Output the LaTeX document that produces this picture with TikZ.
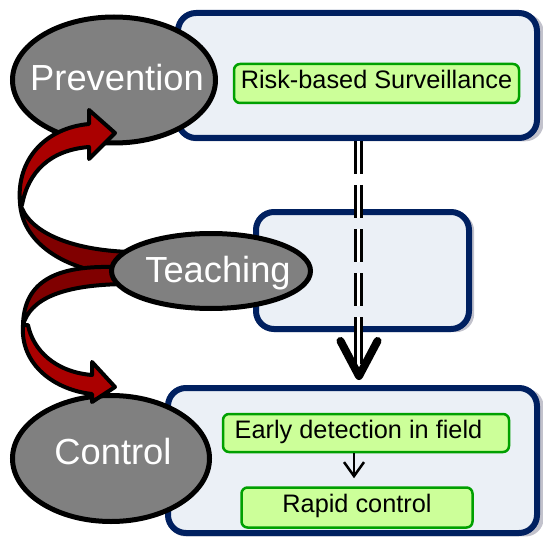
\documentclass[tikz,border=0pt]{standalone}
\usepackage{fontspec}
\setmainfont{Liberation Sans}
\usetikzlibrary{shapes.geometric,shadows,arrows.meta}
\definecolor{navy}{HTML}{002060}
\definecolor{boxfill}{HTML}{EBF0F6}
\definecolor{gfill}{HTML}{CCFF99}
\definecolor{gline}{HTML}{00A000}
\definecolor{redfront}{HTML}{AA0000}
\definecolor{redback}{HTML}{800000}
\definecolor{ellfill}{HTML}{808080}
\definecolor{shadowc}{HTML}{9A9AAA}
\begin{document}
\begin{tikzpicture}[x=1pt,y=-1pt,
  bigbox/.style={draw=navy, line width=6pt, fill=boxfill, rounded corners=18pt, inner sep=0pt,
     drop shadow={shadow xshift=3pt, shadow yshift=-2pt, shadow scale=1.02, fill=shadowc, opacity=0.6}},
  gbox/.style={draw=gline, line width=2.5pt, fill=gfill, rounded corners=6pt, inner sep=0pt,
     font=\fontsize{25.3pt}{29pt}\selectfont, text height=18pt, text depth=8pt},
  ell/.style={ellipse, draw=black, line width=5pt, fill=ellfill, inner sep=0pt},
  elltext/.style={text=white, inner sep=0pt, anchor=base, font=\fontsize{36.3pt}{41pt}\selectfont},
  dline/.style={draw=black, line width=3pt, double=white, double distance=3pt},
  vhead/.style={draw=black, line width=8pt, line cap=round, line join=round},
  ribbon/.style={draw=black, line width=4pt, line join=round},
  smallarrow/.style={draw=black, line width=2.5pt, -{Straight Barb[length=14pt,width=20pt]}}
]
\useasboundingbox (0,0) rectangle (543,540);

% boxes
\node[bigbox, minimum width=359pt, minimum height=125pt] (topbox) at (357.5,75.5) {};
\node[bigbox, minimum width=213pt, minimum height=117pt] (midbox) at (362.5,270.5) {};
\node[bigbox, minimum width=369pt, minimum height=145pt] (botbox) at (352.5,460.5) {};

% green boxes
\node[gbox, minimum width=285pt, minimum height=39pt] (risk) at (376.5,83.5) {Risk-based Surveillance};
\node[gbox, minimum width=286pt, minimum height=38pt] (early) at (366,433) {\hspace*{-15pt}Early detection in field};
\node[gbox, minimum width=231pt, minimum height=40pt] (rapid) at (357,507.5) {Rapid control};

\coordinate (sx) at (354,0);
\draw[smallarrow, shorten >=8pt] (early.south -| sx) -- (rapid.north -| sx);

% big dashed double arrow
\coordinate (dx) at (358.5,0);
\coordinate (dmid) at (358.5,321);
\coordinate (dend) at (358.5,364);
\draw[dline, dash pattern=on 33pt off 11pt] (topbox.south -| dx) -- (dmid);
\draw[dline] (dmid) -- (dend);
\coordinate (vl) at (340.5,341);
\coordinate (vt) at (359,376);
\coordinate (vr) at (377.5,341);
\draw[vhead] (vl) -- (vt) -- (vr);

% Prevention and Control ellipses
\node[ell, minimum width=203pt, minimum height=126pt] (prev) at (114,80) {};
\node[elltext] (prevt) at (117,91) {Prevention};
\node[ell, minimum width=197pt, minimum height=126pt] (ctrl) at (111,458.5) {};
\node[elltext] (ctrlt) at (113,464) {Control};

% back parts of ribbons
\draw[ribbon, fill=redback] (130,252) .. controls (70,250) and (28,232) .. (20,203)
   .. controls (22,240) and (60,272) .. (130,276) -- cycle;
\draw[ribbon, fill=redback] (130,268) .. controls (55,262) and (24,282) .. (23,325)
   .. controls (30,300) and (60,284) .. (130,284) -- cycle;

% Teaching ellipse
\node[ell, minimum width=199pt, minimum height=75pt] (teach) at (211,271) {};
\node[elltext] (teacht) at (218,282) {Teaching};

% front parts of ribbons
\draw[ribbon, fill=redfront] (20,203) .. controls (16,160) and (45,128) .. (89,124)
   -- (89,110) -- (115,133) -- (89,159) -- (89,147)
   .. controls (50,150) and (28,172) .. (22,205) -- cycle;
\draw[ribbon, fill=redfront] (23,325) .. controls (20,365) and (55,390) .. (92,394)
   -- (92,402) -- (115,387) -- (92,362) -- (92,375)
   .. controls (55,372) and (33,350) .. (28,325) -- cycle;
\end{tikzpicture}
\end{document}
